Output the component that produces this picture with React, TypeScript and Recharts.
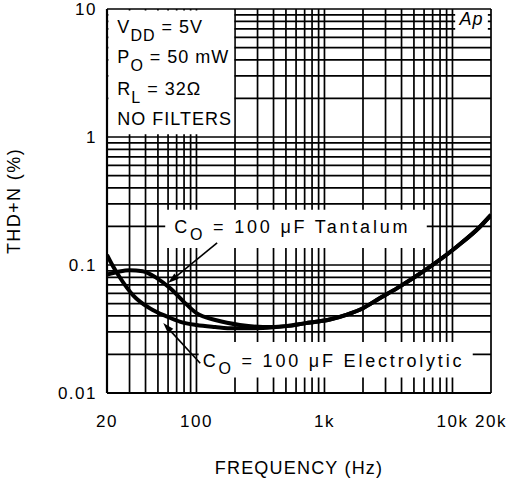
import {
  CartesianGrid,
  Line,
  LineChart,
  ReferenceArea,
  ReferenceLine,
  XAxis,
  YAxis,
} from 'recharts'

// low-frequency part differs between the two capacitors
const electrolyticFreq = [20, 22, 25, 32, 43, 59, 75, 100, 140, 194, 330]
const electrolyticThd = [0.12, 0.1, 0.081, 0.058, 0.046, 0.0395, 0.036, 0.034, 0.0328, 0.032, 0.0322]
const tantalumFreq = [20, 25, 30, 38, 49, 62, 79, 100, 143, 218, 330]
const tantalumThd = [0.084, 0.089, 0.091, 0.0895, 0.079, 0.066, 0.052, 0.042, 0.037, 0.034, 0.0328]
// above ~500 Hz the curves are the same
const sharedFreq = [500, 700, 1100, 1500, 2000, 2700, 3700, 6700, 10800, 16400, 20000]
const sharedThd = [0.0333, 0.035, 0.0375, 0.041, 0.046, 0.055, 0.066, 0.097, 0.139, 0.199, 0.246]

const xGridTicks = [
  20, 30, 40, 50, 60, 70, 80, 90, 100, 200, 300, 400, 500, 600, 700, 800, 900, 1000, 2000, 3000,
  4000, 5000, 6000, 7000, 8000, 9000, 10000, 20000,
]
const xLabelValues = [20, 100, 1000, 10000, 20000]
const xLabelText = ['20', '100', '1k', '10k', '20k']
const yGridTicks = [
  0.01, 0.02, 0.03, 0.04, 0.05, 0.06, 0.07, 0.08, 0.09, 0.1, 0.2, 0.3, 0.4, 0.5, 0.6, 0.7, 0.8,
  0.9, 1, 2, 3, 4, 5, 6, 7, 8, 9, 10,
]
const yLabelValues = [0.01, 0.1, 1, 10]
const yLabelText = ['0.01', '0.1', '1', '10']

const toRows = (fs: number[], vs: number[]) => fs.map((f, i) => ({ f, thd: vs[i] }))
const electrolytic = toRows([...electrolyticFreq, ...sharedFreq], [...electrolyticThd, ...sharedThd])
const tantalum = toRows([...tantalumFreq, ...sharedFreq], [...tantalumThd, ...sharedThd])

const font = '"Liberation Sans", Arial, sans-serif'
const ink = '#000'

const pick = (values: number[], texts: string[]) => (v: number) => {
  const i = values.findIndex((x) => Math.abs(x - v) / x < 1e-6)
  return i < 0 ? '' : texts[i]
}

const tick = { fill: ink, fontSize: 17, fontFamily: font, letterSpacing: 1.5 }
const textStyle = { fill: ink, fontSize: 18, fontFamily: font, letterSpacing: 1 }
const noteStyle = { fill: ink, fontSize: 18, fontFamily: font, letterSpacing: 2.8 }

function Sub({ base, sub, rest, drop = 8 }: { base: string; sub: string; rest: string; drop?: number }) {
  return (
    <>
      <tspan>{base}</tspan>
      <tspan dy={drop} fontSize={16}>
        {sub}
      </tspan>
      <tspan dy={-drop} style={{ whiteSpace: 'pre' }}>
        {rest}
      </tspan>
    </>
  )
}

function Arrow(p: any) {
  const { x1, y1, x2, y2 } = p
  const dx = x2 - x1
  const dy = y2 - y1
  const len = Math.hypot(dx, dy)
  const ux = dx / len
  const uy = dy / len
  const head = 11
  const w = 3.5
  const bx = x2 - ux * head
  const by = y2 - uy * head
  return (
    <g>
      <line x1={x1} y1={y1} x2={bx} y2={by} stroke={ink} strokeWidth={1.6} />
      <polygon
        points={`${x2},${y2} ${bx - uy * w},${by + ux * w} ${bx + uy * w},${by - ux * w}`}
        fill={ink}
      />
    </g>
  )
}

export default function App() {
  return (
    <div style={{ position: 'absolute', left: 0, top: 0, background: '#fff' }}>
      <LineChart width={513} height={480} margin={{ top: 9, right: 22, bottom: 47, left: 0 }}>
        <CartesianGrid stroke={ink} strokeWidth={1.7} />
        <XAxis
          dataKey="f"
          type="number"
          scale="log"
          domain={[20, 20000]}
          allowDataOverflow
          ticks={xGridTicks}
          interval={0}
          tickFormatter={pick(xLabelValues, xLabelText)}
          tick={tick}
          tickLine={false}
          tickSize={0}
          tickMargin={22}
          height={40}
          axisLine={{ stroke: ink, strokeWidth: 2.2 }}
          label={(props: any) => {
            const vb = props.viewBox
            return (
              <text x={vb.x + vb.width / 2} y={474} textAnchor="middle" {...textStyle} letterSpacing={1.2}>
                FREQUENCY (Hz)
              </text>
            )
          }}
        />
        <YAxis
          type="number"
          scale="log"
          domain={[0.01, 10]}
          allowDataOverflow
          ticks={yGridTicks}
          interval={0}
          tickFormatter={pick(yLabelValues, yLabelText)}
          tick={tick}
          tickLine={false}
          tickSize={0}
          tickMargin={10}
          width={107}
          axisLine={{ stroke: ink, strokeWidth: 2.2 }}
          label={(props: any) => {
            const vb = props.viewBox
            const cy = vb.y + vb.height / 2
            return (
              <text x={20} y={cy} textAnchor="middle" transform={`rotate(-90 20 ${cy})`} {...textStyle} letterSpacing={1.4}>
                THD+N (%)
              </text>
            )
          }}
        />

        <ReferenceArea
          x1={20.5}
          x2={197}
          y1={1.05}
          y2={9.75}
          fill="#fff"
          fillOpacity={1}
          stroke="none"
          ifOverflow="hidden"
          label={(props: any) => {
            const { x, y } = props.viewBox
            return (
              <g>
                <text x={x + 9} y={y + 23} {...textStyle}>
                  <Sub base="V" sub="DD" rest=" = 5V" />
                </text>
                <text x={x + 9} y={y + 53} {...textStyle}>
                  <Sub base="P" sub="O" rest=" = 50 mW" />
                </text>
                <text x={x + 9} y={y + 85} {...textStyle}>
                  <Sub base="R" sub="L" rest=" = 32Ω" />
                </text>
                <text x={x + 9} y={y + 115} {...textStyle}>
                  NO FILTERS
                </text>
              </g>
            )
          }}
        />
        <ReferenceArea
          x1={10500}
          x2={18900}
          y1={6.8}
          y2={9.6}
          fill="#fff"
          fillOpacity={1}
          stroke="none"
          label={(props: any) => {
            const { x, y, width } = props.viewBox
            return (
              <text x={x + width / 2} y={y + 14} textAnchor="middle" {...textStyle} fontStyle="italic">
                Ap
              </text>
            )
          }}
        />
        <ReferenceArea
          x1={57}
          x2={6300}
          y1={0.136}
          y2={0.27}
          fill="#fff"
          fillOpacity={1}
          stroke="none"
          label={(props: any) => {
            const { x, y } = props.viewBox
            return (
              <text x={x + 9} y={y + 23} {...noteStyle}>
                <Sub base="C" sub="O" rest=" = 100 μF Tantalum" drop={7} />
              </text>
            )
          }}
        />
        <ReferenceArea
          x1={104}
          x2={14400}
          y1={0.0132}
          y2={0.025}
          fill="#fff"
          fillOpacity={1}
          stroke="none"
          label={(props: any) => {
            const { x, y } = props.viewBox
            return (
              <text x={x + 4} y={y + 25} {...noteStyle}>
                <Sub base="C" sub="O" rest=" = 100 μF Electrolytic" drop={7} />
              </text>
            )
          }}
        />

        <ReferenceLine
          segment={[
            { x: 145, y: 0.149 },
            { x: 60, y: 0.0722 },
          ]}
          shape={Arrow}
        />
        <ReferenceLine
          segment={[
            { x: 107, y: 0.0171 },
            { x: 55, y: 0.0352 },
          ]}
          shape={Arrow}
        />

        <Line
          data={electrolytic}
          dataKey="thd"
          type="monotone"
          stroke={ink}
          strokeWidth={4}
          dot={false}
          isAnimationActive={false}
        />
        <Line
          data={tantalum}
          dataKey="thd"
          type="monotone"
          stroke={ink}
          strokeWidth={4}
          dot={false}
          isAnimationActive={false}
        />
      </LineChart>
    </div>
  )
}
